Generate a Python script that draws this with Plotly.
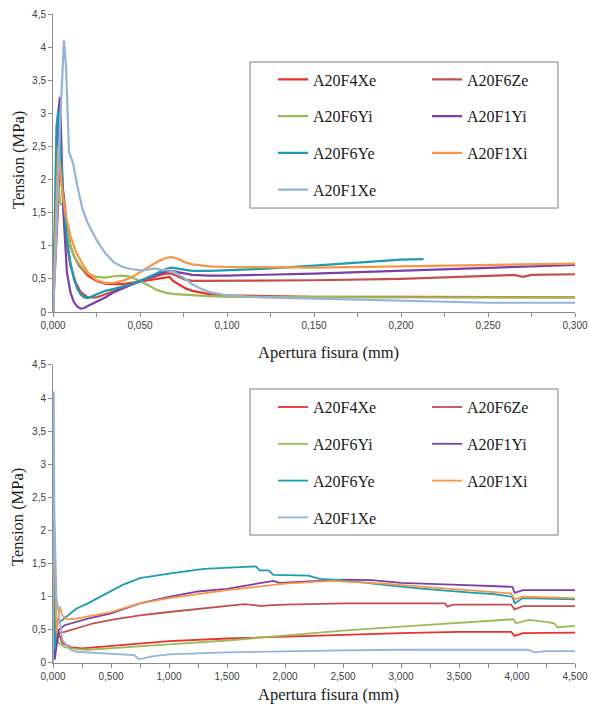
import plotly.graph_objects as go

# ---------------- data ----------------
names = ["A20F4Xe", "A20F6Ze", "A20F6Yi", "A20F1Yi", "A20F6Ye", "A20F1Xi", "A20F1Xe"]
colors = ["#E8322B", "#C0504D", "#9BBB59", "#7B3FA8", "#1C9CB0", "#F79646", "#95B3D7"]

# upper chart: crack opening 0 - 0.3 mm
top_F4Xe_x = [0, 0.002, 0.004, 0.006, 0.008, 0.010, 0.012, 0.015, 0.018, 0.020, 0.025, 0.030, 0.035, 0.040, 0.045, 0.050, 0.055, 0.060, 0.065, 0.067, 0.069, 0.072, 0.076, 0.080, 0.085, 0.090, 0.100, 0.120, 0.150, 0.200, 0.250, 0.300]
top_F4Xe_y = [0, 1.2, 2.2, 1.8, 1.3, 1.0, 0.85, 0.7, 0.6, 0.55, 0.47, 0.43, 0.42, 0.42, 0.44, 0.46, 0.49, 0.51, 0.53, 0.53, 0.47, 0.42, 0.36, 0.32, 0.29, 0.27, 0.25, 0.24, 0.23, 0.23, 0.22, 0.22]

top_F6Ze_x = [0, 0.002, 0.0035, 0.005, 0.007, 0.010, 0.013, 0.016, 0.020, 0.025, 0.030, 0.040, 0.050, 0.060, 0.065, 0.068, 0.072, 0.076, 0.080, 0.090, 0.100, 0.150, 0.200, 0.250, 0.265, 0.270, 0.275, 0.300]
top_F6Ze_y = [0, 1.5, 2.5, 2.0, 1.2, 0.7, 0.45, 0.3, 0.22, 0.22, 0.27, 0.36, 0.46, 0.55, 0.58, 0.58, 0.53, 0.49, 0.47, 0.47, 0.47, 0.48, 0.5, 0.55, 0.56, 0.53, 0.56, 0.57]

top_F6Yi_x = [0, 0.001, 0.002, 0.003, 0.004, 0.006, 0.008, 0.010, 0.012, 0.015, 0.018, 0.020, 0.025, 0.030, 0.035, 0.040, 0.045, 0.050, 0.055, 0.060, 0.065, 0.070, 0.080, 0.090, 0.100, 0.150, 0.200, 0.250, 0.300]
top_F6Yi_y = [0, 1.0, 1.7, 1.95, 1.65, 1.6, 1.3, 1.0, 0.85, 0.72, 0.63, 0.58, 0.53, 0.52, 0.54, 0.55, 0.53, 0.47, 0.4, 0.33, 0.29, 0.27, 0.25, 0.24, 0.23, 0.22, 0.22, 0.22, 0.22]

top_F1Yi_x = [0, 0.001, 0.002, 0.003, 0.004, 0.005, 0.006, 0.008, 0.010, 0.012, 0.014, 0.016, 0.018, 0.020, 0.025, 0.030, 0.035, 0.040, 0.045, 0.050, 0.055, 0.060, 0.065, 0.068, 0.072, 0.076, 0.080, 0.090, 0.100, 0.150, 0.200, 0.250, 0.300]
top_F1Yi_y = [0, 1.0, 2.2, 3.0, 3.25, 2.5, 1.5, 0.6, 0.3, 0.15, 0.08, 0.05, 0.06, 0.09, 0.15, 0.22, 0.3, 0.36, 0.42, 0.47, 0.52, 0.57, 0.61, 0.62, 0.6, 0.57, 0.56, 0.55, 0.55, 0.58, 0.62, 0.67, 0.71]

top_F6Ye_x = [0, 0.001, 0.002, 0.003, 0.004, 0.006, 0.008, 0.010, 0.012, 0.014, 0.016, 0.018, 0.020, 0.025, 0.030, 0.035, 0.040, 0.045, 0.050, 0.055, 0.060, 0.065, 0.068, 0.072, 0.080, 0.090, 0.100, 0.120, 0.150, 0.175, 0.200, 0.213]
top_F6Ye_y = [0, 1.5, 2.8, 3.05, 2.6, 1.7, 1.1, 0.75, 0.5, 0.35, 0.26, 0.22, 0.21, 0.27, 0.32, 0.35, 0.38, 0.42, 0.47, 0.53, 0.6, 0.65, 0.67, 0.65, 0.62, 0.62, 0.63, 0.65, 0.7, 0.75, 0.79, 0.8]

top_F1Xi_x = [0, 0.001, 0.002, 0.003, 0.004, 0.005, 0.007, 0.010, 0.013, 0.016, 0.020, 0.025, 0.030, 0.035, 0.040, 0.045, 0.050, 0.055, 0.060, 0.065, 0.068, 0.072, 0.076, 0.080, 0.090, 0.100, 0.150, 0.200, 0.250, 0.300]
top_F1Xi_y = [0, 0.8, 1.8, 2.5, 2.2, 1.9, 1.5, 1.15, 0.92, 0.77, 0.6, 0.48, 0.44, 0.44, 0.47, 0.52, 0.6, 0.68, 0.76, 0.82, 0.83, 0.8, 0.75, 0.72, 0.69, 0.68, 0.67, 0.69, 0.71, 0.73]

top_F1Xe_x = [0, 0.002, 0.004, 0.0055, 0.0063, 0.0075, 0.0085, 0.0092, 0.0115, 0.014, 0.017, 0.020, 0.025, 0.030, 0.035, 0.040, 0.045, 0.050, 0.055, 0.058, 0.062, 0.066, 0.070, 0.075, 0.080, 0.085, 0.090, 0.100, 0.120, 0.150, 0.200, 0.220, 0.250, 0.300]
top_F1Xe_y = [0, 1.2, 2.8, 3.8, 4.1, 3.7, 3.0, 2.42, 2.25, 1.9, 1.55, 1.34, 1.09, 0.89, 0.75, 0.68, 0.65, 0.63, 0.64, 0.66, 0.64, 0.63, 0.6, 0.52, 0.42, 0.35, 0.3, 0.25, 0.22, 0.2, 0.17, 0.15, 0.14, 0.14]

# lower chart: crack opening 0 - 4.5 mm
bot_F4Xe_x = [0, 0.005, 0.02, 0.05, 0.08, 0.15, 0.25, 0.5, 0.75, 1.0, 1.5, 2.0, 2.5, 3.0, 3.5, 3.95, 3.98, 4.05, 4.5]
bot_F4Xe_y = [0, 2.2, 0.5, 0.45, 0.3, 0.24, 0.22, 0.26, 0.3, 0.33, 0.37, 0.4, 0.43, 0.45, 0.47, 0.47, 0.41, 0.45, 0.46]

bot_F6Ze_x = [0, 0.005, 0.03, 0.05, 0.1, 0.2, 0.35, 0.5, 0.75, 1.0, 1.25, 1.5, 1.65, 1.8, 1.85, 2.0, 2.5, 3.0, 3.38, 3.4, 3.45, 3.95, 3.98, 4.05, 4.5]
bot_F6Ze_y = [0, 2.5, 0.3, 0.45, 0.47, 0.52, 0.6, 0.65, 0.72, 0.77, 0.82, 0.86, 0.89, 0.86, 0.87, 0.88, 0.9, 0.9, 0.9, 0.85, 0.88, 0.88, 0.81, 0.86, 0.86]

bot_F6Yi_x = [0, 0.003, 0.02, 0.05, 0.1, 0.2, 0.3, 0.5, 0.75, 1.0, 1.5, 2.0, 2.5, 3.0, 3.5, 3.97, 3.99, 4.1, 4.25, 4.32, 4.35, 4.5]
bot_F6Yi_y = [0, 1.95, 0.55, 0.3, 0.24, 0.21, 0.2, 0.22, 0.25, 0.28, 0.34, 0.42, 0.49, 0.55, 0.61, 0.66, 0.6, 0.65, 0.62, 0.6, 0.54, 0.56]

bot_F1Yi_x = [0, 0.004, 0.015, 0.05, 0.1, 0.2, 0.3, 0.5, 0.75, 1.0, 1.25, 1.5, 1.75, 1.9, 1.95, 2.25, 2.5, 2.75, 3.0, 3.5, 3.96, 3.98, 4.05, 4.5]
bot_F1Yi_y = [0, 3.25, 0.05, 0.5, 0.57, 0.62, 0.67, 0.75, 0.9, 1.0, 1.08, 1.12, 1.2, 1.24, 1.21, 1.24, 1.26, 1.25, 1.21, 1.18, 1.15, 1.06, 1.1, 1.1]

bot_F6Ye_x = [0, 0.003, 0.015, 0.03, 0.06, 0.1, 0.2, 0.3, 0.5, 0.6, 0.75, 1.0, 1.3, 1.5, 1.75, 1.78, 1.86, 1.9, 2.0, 2.2, 2.3, 2.5, 2.85, 3.2, 3.63, 3.8, 3.96, 3.98, 4.05, 4.5]
bot_F6Ye_y = [0, 3.05, 0.2, 0.65, 0.62, 0.68, 0.82, 0.9, 1.08, 1.18, 1.28, 1.35, 1.42, 1.44, 1.46, 1.4, 1.4, 1.33, 1.33, 1.32, 1.27, 1.25, 1.18, 1.12, 1.06, 1.04, 1.0, 0.9, 0.98, 0.96]

bot_F1Xi_x = [0, 0.003, 0.03, 0.06, 0.08, 0.12, 0.2, 0.3, 0.5, 0.75, 1.0, 1.5, 2.0, 2.4, 2.85, 3.2, 3.63, 3.95, 3.98, 4.05, 4.5]
bot_F1Xi_y = [0, 2.5, 0.45, 0.85, 0.72, 0.66, 0.67, 0.7, 0.77, 0.9, 0.98, 1.1, 1.2, 1.24, 1.2, 1.15, 1.09, 1.05, 0.96, 1.0, 0.98]

bot_F1Xe_x = [0, 0.004, 0.007, 0.012, 0.03, 0.08, 0.15, 0.2, 0.4, 0.7, 0.74, 0.78, 0.85, 1.0, 1.5, 2.0, 2.5, 3.0, 3.5, 4.1, 4.15, 4.25, 4.5]
bot_F1Xe_y = [0, 3.0, 4.1, 2.3, 1.0, 0.35, 0.2, 0.17, 0.15, 0.12, 0.06, 0.07, 0.1, 0.13, 0.16, 0.18, 0.19, 0.2, 0.2, 0.2, 0.16, 0.18, 0.18]

top_series = [(top_F4Xe_x, top_F4Xe_y), (top_F6Ze_x, top_F6Ze_y), (top_F6Yi_x, top_F6Yi_y),
              (top_F1Yi_x, top_F1Yi_y), (top_F6Ye_x, top_F6Ye_y), (top_F1Xi_x, top_F1Xi_y),
              (top_F1Xe_x, top_F1Xe_y)]
bot_series = [(bot_F4Xe_x, bot_F4Xe_y), (bot_F6Ze_x, bot_F6Ze_y), (bot_F6Yi_x, bot_F6Yi_y),
              (bot_F1Yi_x, bot_F1Yi_y), (bot_F6Ye_x, bot_F6Ye_y), (bot_F1Xi_x, bot_F1Xi_y),
              (bot_F1Xe_x, bot_F1Xe_y)]

x_title = "Apertura fisura (mm)"
y_title = "Tension (MPa)"

# ---------------- figure ----------------
fig = go.Figure()
left_col = {0, 2, 4, 6}
for i, (name, col) in enumerate(zip(names, colors)):
    xs, ys = top_series[i]
    fig.add_trace(go.Scatter(x=xs, y=ys, mode="lines", name=name,
                             line=dict(color=col, width=2.2),
                             xaxis="x", yaxis="y",
                             legend="legend" if i in left_col else "legend2",
                             legendgroup="t" + name))
for i, (name, col) in enumerate(zip(names, colors)):
    xs, ys = bot_series[i]
    fig.add_trace(go.Scatter(x=xs, y=ys, mode="lines", name=name,
                             line=dict(color=col, width=1.8),
                             xaxis="x2", yaxis="y2",
                             legend="legend3" if i in left_col else "legend4",
                             legendgroup="b" + name))

tickfont = dict(family="Liberation Sans", size=10, color="#404040")
axis_common = dict(showline=True, linecolor="#8c8c8c", linewidth=1, showgrid=False,
                   zeroline=False, ticks="outside", ticklen=4, tickcolor="#8c8c8c",
                   tickfont=tickfont, automargin=False, ticklabeloverflow="allow")

legfont = dict(family="Liberation Serif", size=16, color="#1a1a1a")
def leg(x, y):
    return dict(x=x, y=y, xanchor="left", yanchor="top", orientation="v",
                bgcolor="rgba(0,0,0,0)", borderwidth=0, font=legfont,
                tracegroupgap=13, traceorder="grouped", itemwidth=30)

titlefont = dict(family="Liberation Serif", size=16.5, color="#1a1a1a")
def ann(text, x, y, angle=0):
    return dict(text=text, xref="paper", yref="paper", x=x, y=y, showarrow=False,
                xanchor="center", yanchor="middle", textangle=angle, font=titlefont)

fig.update_layout(
    width=590, height=705,
    margin=dict(l=53, r=15, t=14, b=42, autoexpand=False),
    paper_bgcolor="white", plot_bgcolor="white",
    separators=",.",
    xaxis=dict(domain=[0, 1], anchor="y", range=[0, 0.3], dtick=0.05, tick0=0,
               tickformat=".3f", minor=dict(dtick=0.025, ticks="outside", ticklen=4,
                                            tickcolor="#8c8c8c"), **axis_common),
    yaxis=dict(domain=[0.5408, 1], anchor="x", range=[0, 4.5], dtick=0.5, tick0=0,
               **axis_common),
    xaxis2=dict(domain=[0, 1], anchor="y2", range=[0, 4.5], dtick=0.5, tick0=0,
                tickformat=".3f", minor=dict(dtick=0.25, ticks="outside", ticklen=4,
                                             tickcolor="#8c8c8c"), **axis_common),
    yaxis2=dict(domain=[0, 0.4592], anchor="x2", range=[0, 4.5], dtick=0.5, tick0=0,
                **axis_common),
    legend=leg(0.4215, 0.9254),
    legend2=leg(0.7165, 0.9254),
    legend3=leg(0.4215, 0.4205),
    legend4=leg(0.7165, 0.4205),
    shapes=[
        dict(type="rect", xref="paper", yref="paper", x0=0.3774, x1=0.9674, y0=0.701, y1=0.926,
             line=dict(color="#7f7f7f", width=1), fillcolor="rgba(0,0,0,0)", layer="above"),
        dict(type="rect", xref="paper", yref="paper", x0=0.3774, x1=0.9674, y0=0.1972, y1=0.4222,
             line=dict(color="#7f7f7f", width=1), fillcolor="rgba(0,0,0,0)", layer="above"),
    ],
    annotations=[
        ann(x_title, 0.5287, 0.479),
        ann(x_title, 0.5287, -0.0478),
        ann(y_title, -0.067, 0.775, -90),
        ann(y_title, -0.067, 0.225, -90),
    ],
)

# remove the default page margin so the 590x705 figure fills the window exactly
fig.write_html("out.html",
               config={"displayModeBar": False},
               post_script="document.body.style.margin='0';"
                           "document.documentElement.style.overflow='hidden';"
                           "document.body.style.overflow='hidden';")
